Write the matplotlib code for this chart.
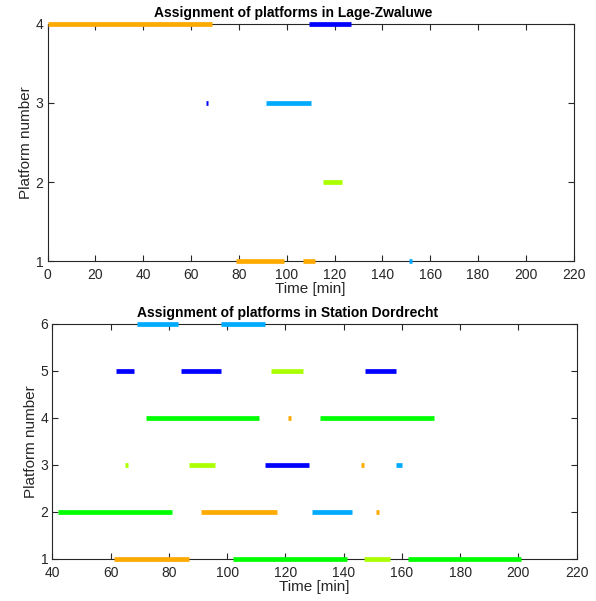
import matplotlib
matplotlib.use("Agg")
import matplotlib.pyplot as plt

plt.rcParams['font.family'] = ['Liberation Sans', 'DejaVu Sans']

ORANGE = '#FFAA00'
BLUE = '#0000FF'
LBLUE = '#00AAFF'
GREEN = '#00FF00'
YGREEN = '#AAFF00'

# Lage-Zwaluwe
lz_platform = [4, 4, 3, 3, 2, 1, 1, 1]
lz_start = [0, 109.3, 66.1, 91.2, 115.2, 79, 107, 151.2]
lz_end = [68.8, 127, 66.9, 110, 123, 99, 112, 152.2]
lz_color = [ORANGE, BLUE, BLUE, LBLUE, YGREEN, ORANGE, ORANGE, LBLUE]

# Station Dordrecht
dd_platform = [6, 6, 5, 5, 5, 5, 4, 4, 4, 3, 3, 3, 3, 3, 2, 2, 2, 2, 1, 1, 1, 1]
dd_start = [69, 98, 62, 84, 115, 147.4, 72, 121, 132, 65, 87, 113, 146, 158, 42, 91, 129, 151, 61, 102, 147, 162]
dd_end = [83, 113, 68, 98, 126, 158, 111, 122, 171, 66, 96, 128, 147, 160, 81, 117, 143, 152, 87, 141, 156, 201]
dd_color = [LBLUE, LBLUE, BLUE, BLUE, YGREEN, BLUE, GREEN, ORANGE, GREEN, YGREEN, YGREEN, BLUE, ORANGE, LBLUE,
            GREEN, ORANGE, LBLUE, ORANGE, ORANGE, GREEN, YGREEN, GREEN]

panels = [
    dict(title='Assignment of platforms in Lage-Zwaluwe', p=lz_platform, s=lz_start, e=lz_end, c=lz_color,
         xlim=(0, 220), xticks=list(range(0, 221, 20)), ylim=(1, 4), yticks=[1, 2, 3, 4],
         pos=[0.0797, 0.5657, 0.8829, 0.3944], tx=0.467),
    dict(title='Assignment of platforms in Station Dordrecht', p=dd_platform, s=dd_start, e=dd_end, c=dd_color,
         xlim=(40, 220), xticks=list(range(40, 221, 20)), ylim=(1, 6), yticks=[1, 2, 3, 4, 5, 6],
         pos=[0.0878, 0.0704, 0.8798, 0.3905], tx=0.448),
]

fig = plt.figure(figsize=(5.96, 6.01), dpi=100)
axcol = '#262626'
for pn in panels:
    ax = fig.add_axes(pn['pos'])
    for p, s, e, c in zip(pn['p'], pn['s'], pn['e'], pn['c']):
        ax.plot([s, e], [p, p], color=c, lw=3.4, solid_capstyle='butt', clip_on=False, zorder=5)
    ax.set_xlim(*pn['xlim'])
    ax.set_ylim(*pn['ylim'])
    ax.set_xticks(pn['xticks'])
    ax.set_yticks(pn['yticks'])
    ax.tick_params(direction='in', top=True, right=True, length=4, width=0.8, colors=axcol,
                   labelsize=10, labelcolor=axcol)
    ax.tick_params(axis='x', pad=5)
    ax.tick_params(axis='y', pad=3)
    for sp in ax.spines.values():
        sp.set_color(axcol)
        sp.set_linewidth(0.8)
    ax.set_title(pn['title'], fontsize=10, fontweight='bold', color='black', pad=5, x=pn['tx'])
    ax.set_xlabel('Time [min]', fontsize=11, color=axcol, labelpad=0)
    ax.set_ylabel('Platform number', fontsize=11, color=axcol, labelpad=2)

fig.savefig('out.png', dpi=100)
